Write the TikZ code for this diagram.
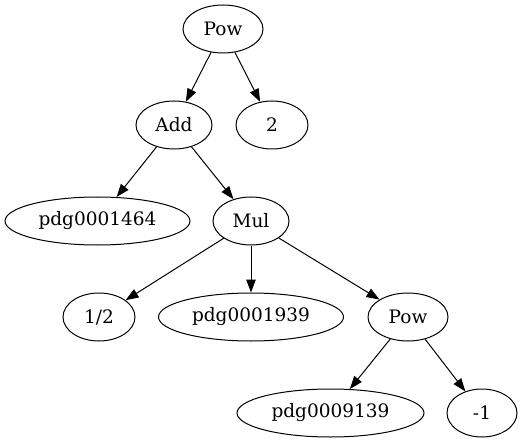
\documentclass[tikz,border=0pt]{standalone}
\usepackage{fontspec}
\setmainfont{DejaVu Serif}
\usetikzlibrary{shapes.geometric, arrows.meta}

\begin{document}
\begin{tikzpicture}[x=1pt, y=-1pt,
    vert/.style={draw, ellipse, line width=1pt, minimum height=48pt, inner sep=0pt,
        font=\fontsize{18.5}{20}\selectfont},
    edge/.style={line width=1pt, -{Triangle[length=13pt, width=9.5pt]}}]
    \useasboundingbox (0,0) rectangle (526,443);

    % Create vertices
    \node[vert, minimum width=80pt] (pow1) at (223,29) {Pow};
    \node[vert, minimum width=76pt] (add) at (174,125) {Add};
    \node[vert, minimum width=72pt] (two) at (272,125) {2};
    \node[vert, minimum width=185pt] (pdgA) at (97.5,221) {pdg0001464};
    \node[vert, minimum width=76pt] (mul) at (251,221) {Mul};
    \node[vert, minimum width=72pt] (half) at (99,317) {1/2};
    \node[vert, minimum width=185pt] (pdgB) at (251,317) {pdg0001939};
    \node[vert, minimum width=80pt] (pow2) at (408,317) {Pow};
    \node[vert, minimum width=187pt] (pdgC) at (330.5,413) {pdg0009139};
    \node[vert, minimum width=70pt] (neg) at (482,413) {-1};

    % Draw edges
    \draw[edge] (pow1) -- (add);
    \draw[edge] (pow1) -- (two);
    \draw[edge] (add) -- (pdgA);
    \draw[edge] (add) -- (mul);
    \draw[edge] (mul) -- (half);
    \draw[edge] (mul) -- (pdgB);
    \draw[edge] (mul) -- (pow2);
    \draw[edge] (pow2) -- (pdgC);
    \draw[edge] (pow2) -- (neg);
\end{tikzpicture}
\end{document}
